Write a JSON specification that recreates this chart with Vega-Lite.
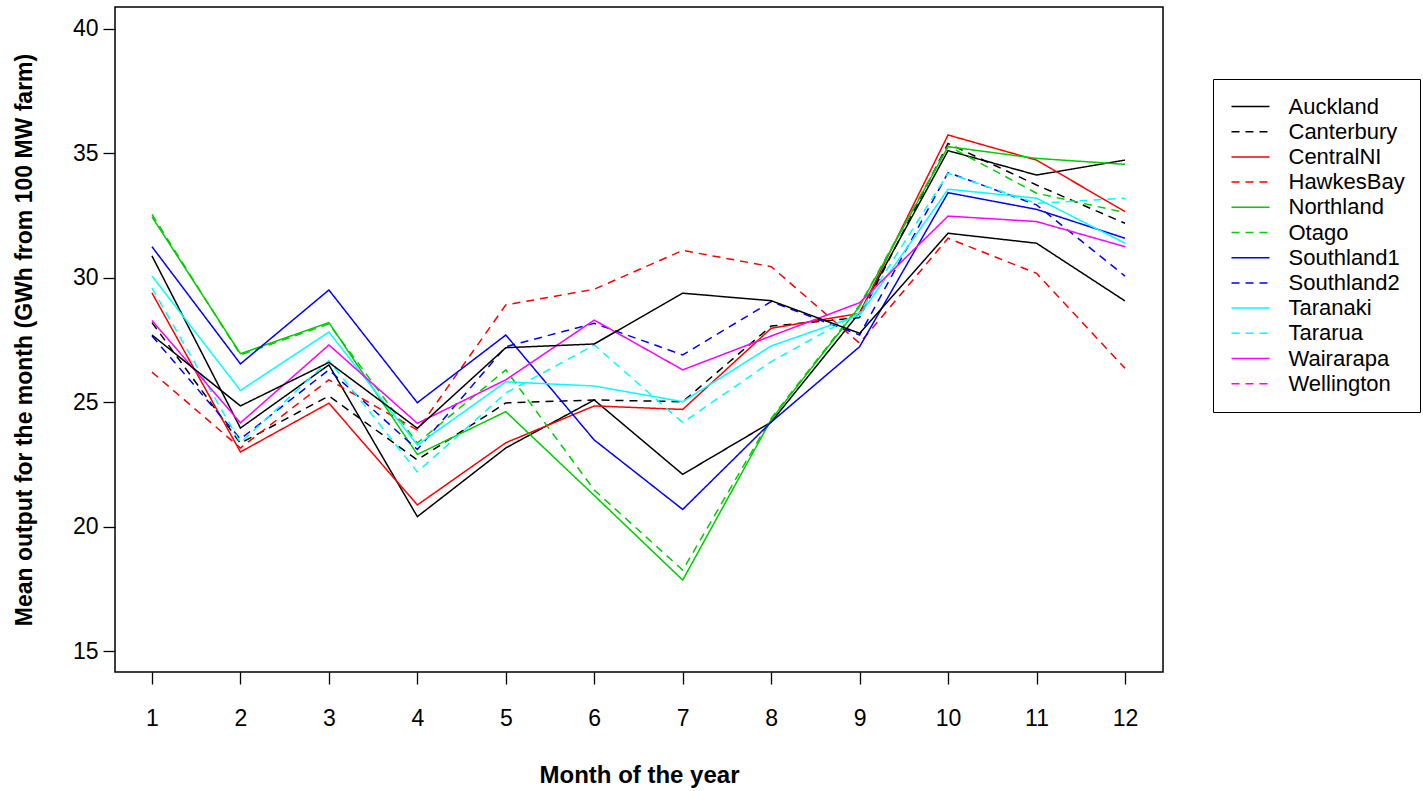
{
  "$schema": "https://vega.github.io/schema/vega-lite/v6.json",
  "width": 1048,
  "height": 665,
  "autosize": {"type": "none"},
  "padding": {"left": 115, "top": 7, "right": 260, "bottom": 119},
  "background": "white",
  "config": {
    "view": {"stroke": "black", "strokeWidth": 1.5},
    "font": "Liberation Sans"
  },
  "data": {
    "values": [
      {"site": "Auckland", "month": 1, "gwh": 30.88}, {"site": "Auckland", "month": 2, "gwh": 23.96}, {"site": "Auckland", "month": 3, "gwh": 26.5}, {"site": "Auckland", "month": 4, "gwh": 20.4}, {"site": "Auckland", "month": 5, "gwh": 23.16}, {"site": "Auckland", "month": 6, "gwh": 25.09}, {"site": "Auckland", "month": 7, "gwh": 22.1}, {"site": "Auckland", "month": 8, "gwh": 24.2}, {"site": "Auckland", "month": 9, "gwh": 28.6}, {"site": "Auckland", "month": 10, "gwh": 35.11}, {"site": "Auckland", "month": 11, "gwh": 34.13}, {"site": "Auckland", "month": 12, "gwh": 34.73},
      {"site": "Canterbury", "month": 1, "gwh": 28.2}, {"site": "Canterbury", "month": 2, "gwh": 23.35}, {"site": "Canterbury", "month": 3, "gwh": 25.25}, {"site": "Canterbury", "month": 4, "gwh": 22.68}, {"site": "Canterbury", "month": 5, "gwh": 24.97}, {"site": "Canterbury", "month": 6, "gwh": 25.09}, {"site": "Canterbury", "month": 7, "gwh": 25.02}, {"site": "Canterbury", "month": 8, "gwh": 28.06}, {"site": "Canterbury", "month": 9, "gwh": 28.4}, {"site": "Canterbury", "month": 10, "gwh": 35.4}, {"site": "Canterbury", "month": 11, "gwh": 33.73}, {"site": "Canterbury", "month": 12, "gwh": 32.19},
      {"site": "CentralNI", "month": 1, "gwh": 29.39}, {"site": "CentralNI", "month": 2, "gwh": 23.0}, {"site": "CentralNI", "month": 3, "gwh": 24.96}, {"site": "CentralNI", "month": 4, "gwh": 20.87}, {"site": "CentralNI", "month": 5, "gwh": 23.37}, {"site": "CentralNI", "month": 6, "gwh": 24.85}, {"site": "CentralNI", "month": 7, "gwh": 24.71}, {"site": "CentralNI", "month": 8, "gwh": 27.97}, {"site": "CentralNI", "month": 9, "gwh": 28.57}, {"site": "CentralNI", "month": 10, "gwh": 35.74}, {"site": "CentralNI", "month": 11, "gwh": 34.73}, {"site": "CentralNI", "month": 12, "gwh": 32.66},
      {"site": "HawkesBay", "month": 1, "gwh": 26.21}, {"site": "HawkesBay", "month": 2, "gwh": 23.16}, {"site": "HawkesBay", "month": 3, "gwh": 25.9}, {"site": "HawkesBay", "month": 4, "gwh": 23.88}, {"site": "HawkesBay", "month": 5, "gwh": 28.91}, {"site": "HawkesBay", "month": 6, "gwh": 29.54}, {"site": "HawkesBay", "month": 7, "gwh": 31.1}, {"site": "HawkesBay", "month": 8, "gwh": 30.45}, {"site": "HawkesBay", "month": 9, "gwh": 27.37}, {"site": "HawkesBay", "month": 10, "gwh": 31.59}, {"site": "HawkesBay", "month": 11, "gwh": 30.18}, {"site": "HawkesBay", "month": 12, "gwh": 26.36},
      {"site": "Northland", "month": 1, "gwh": 32.45}, {"site": "Northland", "month": 2, "gwh": 26.95}, {"site": "Northland", "month": 3, "gwh": 28.2}, {"site": "Northland", "month": 4, "gwh": 22.9}, {"site": "Northland", "month": 5, "gwh": 24.62}, {"site": "Northland", "month": 6, "gwh": 21.25}, {"site": "Northland", "month": 7, "gwh": 17.85}, {"site": "Northland", "month": 8, "gwh": 24.3}, {"site": "Northland", "month": 9, "gwh": 28.85}, {"site": "Northland", "month": 10, "gwh": 35.27}, {"site": "Northland", "month": 11, "gwh": 34.8}, {"site": "Northland", "month": 12, "gwh": 34.56},
      {"site": "Otago", "month": 1, "gwh": 32.55}, {"site": "Otago", "month": 2, "gwh": 26.9}, {"site": "Otago", "month": 3, "gwh": 28.15}, {"site": "Otago", "month": 4, "gwh": 23.36}, {"site": "Otago", "month": 5, "gwh": 26.3}, {"site": "Otago", "month": 6, "gwh": 21.47}, {"site": "Otago", "month": 7, "gwh": 18.25}, {"site": "Otago", "month": 8, "gwh": 24.35}, {"site": "Otago", "month": 9, "gwh": 28.9}, {"site": "Otago", "month": 10, "gwh": 35.3}, {"site": "Otago", "month": 11, "gwh": 33.4}, {"site": "Otago", "month": 12, "gwh": 32.62},
      {"site": "Southland1", "month": 1, "gwh": 31.25}, {"site": "Southland1", "month": 2, "gwh": 26.54}, {"site": "Southland1", "month": 3, "gwh": 29.51}, {"site": "Southland1", "month": 4, "gwh": 24.98}, {"site": "Southland1", "month": 5, "gwh": 27.7}, {"site": "Southland1", "month": 6, "gwh": 23.48}, {"site": "Southland1", "month": 7, "gwh": 20.69}, {"site": "Southland1", "month": 8, "gwh": 24.2}, {"site": "Southland1", "month": 9, "gwh": 27.23}, {"site": "Southland1", "month": 10, "gwh": 33.42}, {"site": "Southland1", "month": 11, "gwh": 32.75}, {"site": "Southland1", "month": 12, "gwh": 31.59},
      {"site": "Southland2", "month": 1, "gwh": 27.66}, {"site": "Southland2", "month": 2, "gwh": 23.52}, {"site": "Southland2", "month": 3, "gwh": 26.3}, {"site": "Southland2", "month": 4, "gwh": 23.1}, {"site": "Southland2", "month": 5, "gwh": 27.23}, {"site": "Southland2", "month": 6, "gwh": 28.17}, {"site": "Southland2", "month": 7, "gwh": 26.9}, {"site": "Southland2", "month": 8, "gwh": 29.04}, {"site": "Southland2", "month": 9, "gwh": 27.7}, {"site": "Southland2", "month": 10, "gwh": 34.23}, {"site": "Southland2", "month": 11, "gwh": 32.93}, {"site": "Southland2", "month": 12, "gwh": 30.07},
      {"site": "Taranaki", "month": 1, "gwh": 30.07}, {"site": "Taranaki", "month": 2, "gwh": 25.47}, {"site": "Taranaki", "month": 3, "gwh": 27.82}, {"site": "Taranaki", "month": 4, "gwh": 23.28}, {"site": "Taranaki", "month": 5, "gwh": 25.82}, {"site": "Taranaki", "month": 6, "gwh": 25.65}, {"site": "Taranaki", "month": 7, "gwh": 25.02}, {"site": "Taranaki", "month": 8, "gwh": 27.26}, {"site": "Taranaki", "month": 9, "gwh": 28.5}, {"site": "Taranaki", "month": 10, "gwh": 33.56}, {"site": "Taranaki", "month": 11, "gwh": 33.2}, {"site": "Taranaki", "month": 12, "gwh": 31.39},
      {"site": "Tararua", "month": 1, "gwh": 29.59}, {"site": "Tararua", "month": 2, "gwh": 23.37}, {"site": "Tararua", "month": 3, "gwh": 26.67}, {"site": "Tararua", "month": 4, "gwh": 22.2}, {"site": "Tararua", "month": 5, "gwh": 25.37}, {"site": "Tararua", "month": 6, "gwh": 27.3}, {"site": "Tararua", "month": 7, "gwh": 24.18}, {"site": "Tararua", "month": 8, "gwh": 26.63}, {"site": "Tararua", "month": 9, "gwh": 28.6}, {"site": "Tararua", "month": 10, "gwh": 34.2}, {"site": "Tararua", "month": 11, "gwh": 32.99}, {"site": "Tararua", "month": 12, "gwh": 33.2},
      {"site": "Wairarapa", "month": 1, "gwh": 28.28}, {"site": "Wairarapa", "month": 2, "gwh": 24.17}, {"site": "Wairarapa", "month": 3, "gwh": 27.3}, {"site": "Wairarapa", "month": 4, "gwh": 24.15}, {"site": "Wairarapa", "month": 5, "gwh": 25.9}, {"site": "Wairarapa", "month": 6, "gwh": 28.3}, {"site": "Wairarapa", "month": 7, "gwh": 26.3}, {"site": "Wairarapa", "month": 8, "gwh": 27.66}, {"site": "Wairarapa", "month": 9, "gwh": 29.0}, {"site": "Wairarapa", "month": 10, "gwh": 32.48}, {"site": "Wairarapa", "month": 11, "gwh": 32.26}, {"site": "Wairarapa", "month": 12, "gwh": 31.25},
      {"site": "Unlabelled", "month": 1, "gwh": 27.7}, {"site": "Unlabelled", "month": 2, "gwh": 24.85}, {"site": "Unlabelled", "month": 3, "gwh": 26.6}, {"site": "Unlabelled", "month": 4, "gwh": 23.95}, {"site": "Unlabelled", "month": 5, "gwh": 27.19}, {"site": "Unlabelled", "month": 6, "gwh": 27.34}, {"site": "Unlabelled", "month": 7, "gwh": 29.38}, {"site": "Unlabelled", "month": 8, "gwh": 29.08}, {"site": "Unlabelled", "month": 9, "gwh": 27.77}, {"site": "Unlabelled", "month": 10, "gwh": 31.79}, {"site": "Unlabelled", "month": 11, "gwh": 31.39}, {"site": "Unlabelled", "month": 12, "gwh": 29.07}
    ]
  },
  "mark": {"type": "line", "strokeWidth": 1.5, "clip": true},
  "encoding": {
    "x": {
      "field": "month",
      "type": "quantitative",
      "scale": {"domain": [0.582, 12.43], "nice": false, "zero": false},
      "axis": {
        "values": [1, 2, 3, 4, 5, 6, 7, 8, 9, 10, 11, 12],
        "title": "Month of the year",
        "titleFontSize": 24,
        "titleFontWeight": "bold",
        "titleColor": "black",
        "titlePadding": 33,
        "labelFontSize": 23,
        "labelColor": "black",
        "labelPadding": 23,
        "tickSize": 12,
        "tickColor": "black",
        "tickWidth": 1.3,
        "domain": false,
        "grid": false
      }
    },
    "y": {
      "field": "gwh",
      "type": "quantitative",
      "scale": {"domain": [14.156, 40.884], "nice": false, "zero": false},
      "axis": {
        "values": [15, 20, 25, 30, 35, 40],
        "title": "Mean output for the month (GWh from 100 MW farm)",
        "titleFontSize": 23,
        "titleFontWeight": "bold",
        "titleColor": "black",
        "titlePadding": 36,
        "labelFontSize": 23,
        "labelColor": "black",
        "labelPadding": 5,
        "tickSize": 12,
        "tickColor": "black",
        "tickWidth": 1.3,
        "domain": false,
        "grid": false
      }
    },
    "color": {
      "field": "site",
      "type": "nominal",
      "scale": {
        "domain": ["Auckland", "Canterbury", "CentralNI", "HawkesBay", "Northland", "Otago", "Southland1", "Southland2", "Taranaki", "Tararua", "Wairarapa", "Wellington", "Unlabelled"],
        "range": ["#000000", "#000000", "#FF0000", "#FF0000", "#00CD00", "#00CD00", "#0000FF", "#0000FF", "#00FFFF", "#00FFFF", "#FF00FF", "#FF00FF", "#000000"]
      },
      "legend": {
        "title": null,
        "values": ["Auckland", "Canterbury", "CentralNI", "HawkesBay", "Northland", "Otago", "Southland1", "Southland2", "Taranaki", "Tararua", "Wairarapa", "Wellington"],
        "orient": "none",
        "legendX": 1098,
        "legendY": 72,
        "strokeColor": "black",
        "padding": 15,
        "symbolType": "stroke",
        "symbolSize": 1444,
        "symbolStrokeWidth": 1.5,
        "symbolOffset": 2.5,
        "labelFontSize": 22,
        "labelColor": "black",
        "labelOffset": 18,
        "clipHeight": 25,
        "rowPadding": 0.2
      }
    },
    "strokeDash": {
      "field": "site",
      "type": "nominal",
      "scale": {
        "domain": ["Auckland", "Canterbury", "CentralNI", "HawkesBay", "Northland", "Otago", "Southland1", "Southland2", "Taranaki", "Tararua", "Wairarapa", "Wellington", "Unlabelled"],
        "range": [[1, 0], [8, 6], [1, 0], [8, 6], [1, 0], [8, 6], [1, 0], [8, 6], [1, 0], [8, 6], [1, 0], [8, 6], [1, 0]]
      },
      "legend": {
        "title": null,
        "values": ["Auckland", "Canterbury", "CentralNI", "HawkesBay", "Northland", "Otago", "Southland1", "Southland2", "Taranaki", "Tararua", "Wairarapa", "Wellington"],
        "orient": "none",
        "legendX": 1098,
        "legendY": 72,
        "strokeColor": "black",
        "padding": 15,
        "symbolType": "stroke",
        "symbolSize": 1444,
        "symbolStrokeWidth": 1.5,
        "symbolOffset": 2.5,
        "labelFontSize": 22,
        "labelColor": "black",
        "labelOffset": 18,
        "clipHeight": 25,
        "rowPadding": 0.2
      }
    }
  }
}
